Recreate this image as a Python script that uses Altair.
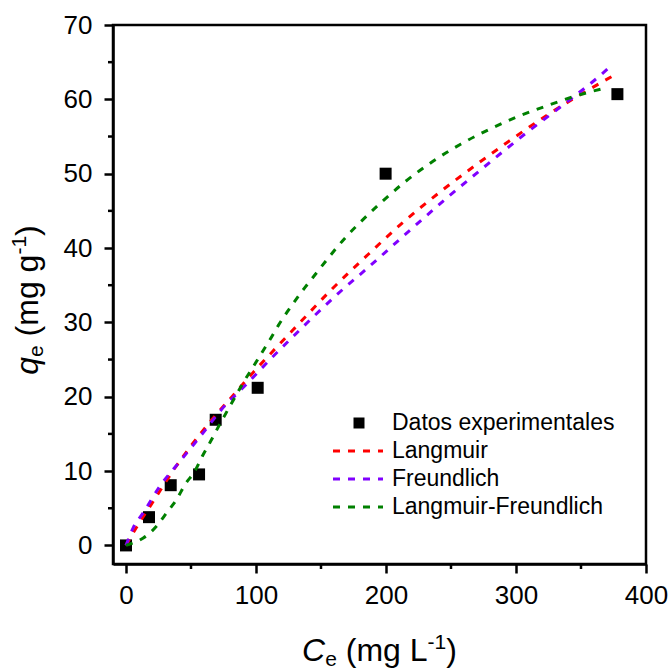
import altair as alt
import pandas as pd

# ---------------- data ----------------
exp_C = [0, 17.7, 34.4, 56.2, 69.0, 101.3, 199.7, 378.0]
exp_q = [0, 3.8, 8.1, 9.55, 16.9, 21.2, 50.0, 60.7]

lang_C = [0, 8, 22, 36, 50, 66, 83, 98, 115, 128, 158, 186, 214, 242, 267, 294, 325, 358, 378]
lang_q = [0, 2.4, 6.2, 10.0, 13.4, 16.9, 20.3, 23.3, 26.5, 28.9, 34.4, 39.1, 43.6, 47.6, 50.9, 54.3, 58.0, 61.5, 63.5]

freu_C = [0, 5.6, 13.3, 26.2, 41.5, 58.2, 73.6, 92.8, 110.8, 127.4, 163.3, 186.4, 215.9, 247.9, 276.2, 304.4, 335.1, 363.3, 373.6]
freu_q = [0, 2.4, 4.4, 8.0, 11.3, 14.9, 18.3, 21.7, 25.0, 27.9, 33.9, 37.4, 42.0, 46.9, 51.0, 55.0, 59.1, 63.0, 64.6]

lf_C = [0, 1.8, 13.3, 23.6, 31.3, 39.0, 45.4, 53.0, 58.7, 65.1, 71.5, 77.9, 83.8, 90.2, 97.4, 104.4, 110.8,
        117.2, 123.6, 137.7, 145.4, 154.4, 169.8, 178.7, 196.7, 214.6, 236.4, 257.7, 280.0, 301.8,
        324.9, 346.7, 370.5]
lf_q = [0, 0.1, 1.0, 2.6, 4.4, 6.2, 8.2, 10.0, 12.0, 14.0, 16.1, 18.1, 19.9, 21.9, 23.9, 25.9, 27.7,
        29.6, 31.3, 34.7, 36.4, 38.4, 41.6, 43.2, 46.2, 48.9, 51.7, 54.0, 56.0, 57.7,
        59.2, 60.5, 61.6]

series_names = ["Langmuir", "Freundlich", "Langmuir-Freundlich"]
series_colors = ["#ff0000", "#8000ff", "#008000"]
legend_first = "Datos experimentales"

x_ticks = [0, 100, 200, 300, 400]
x_minor = [50, 150, 250, 350]
y_ticks = [0, 10, 20, 30, 40, 50, 60, 70]
y_minor = [5, 15, 25, 35, 45, 55, 65]

# ---------------- layout ----------------
W, H = 533, 539
FONT = "Arial, 'Liberation Sans', sans-serif"
xs = alt.Scale(domain=[-10, 400], nice=False, zero=False)
ys = alt.Scale(domain=[-2.5, 70], nice=False, zero=False)

exp_df = pd.DataFrame({"C": exp_C, "q": exp_q})
rows = []
for name, Cs, qs in [(series_names[0], lang_C, lang_q), (series_names[1], freu_C, freu_q), (series_names[2], lf_C, lf_q)]:
    for i, (c, q) in enumerate(zip(Cs, qs)):
        rows.append({"series": name, "C": c, "q": q, "order": i})
fit_df = pd.DataFrame(rows)

DASH = [7, 8]

def axis(vals, pad):
    return alt.Axis(values=vals, title=None, grid=False, tickSize=9, tickWidth=2.5, domainWidth=2.5,
                    labelFontSize=26, labelPadding=pad, labelFont=FONT, labelColor="black",
                    labelFlush=False, labelOverlap=False,
                    domainColor="black", tickColor="black")

points = alt.Chart(exp_df).mark_square(size=144, color="black", opacity=1).encode(
    x=alt.X("C:Q", scale=xs, axis=axis(x_ticks, 9)),
    y=alt.Y("q:Q", scale=ys, axis=axis(y_ticks, 12)),
)

lines = alt.Chart(fit_df).mark_line(strokeDash=DASH, strokeWidth=3, interpolate="monotone").encode(
    x=alt.X("C:Q", scale=xs),
    y=alt.Y("q:Q", scale=ys),
    color=alt.Color("series:N", scale=alt.Scale(domain=series_names, range=series_colors), legend=None),
    order="order:Q",
)

xminor = alt.Chart(pd.DataFrame({"v": x_minor})).mark_rule(color="black", strokeWidth=2.5).encode(
    x=alt.X("v:Q", scale=xs), y=alt.value(H), y2=alt.value(H + 5))
yminor = alt.Chart(pd.DataFrame({"v": y_minor})).mark_rule(color="black", strokeWidth=2.5).encode(
    y=alt.Y("v:Q", scale=ys), x=alt.value(0), x2=alt.value(-5))

# ---------------- legend (manual) ----------------
LX_TEXT, LX0, LX1 = 279, 220, 270
L_BASE = [405, 433, 461, 489]
legend_layers = []
legend_layers.append(alt.Chart(pd.DataFrame({"a": [0]})).mark_square(size=121, color="black", opacity=1).encode(
    x=alt.value(246), y=alt.value(L_BASE[0] - 7)))
labels = [legend_first] + series_names
for i, lab in enumerate(labels):
    legend_layers.append(alt.Chart(pd.DataFrame({"t": [lab]})).mark_text(
        align="left", baseline="alphabetic", fontSize=23, font=FONT, color="black").encode(
        text="t:N", x=alt.value(LX_TEXT), y=alt.value(L_BASE[i])))
for i, col in enumerate(series_colors):
    yy = L_BASE[i + 1] - 7
    legend_layers.append(alt.Chart(pd.DataFrame({"a": [0]})).mark_rule(
        color=col, strokeWidth=3, strokeDash=DASH).encode(
        x=alt.value(LX0), x2=alt.value(LX1), y=alt.value(yy)))

# ---------------- axis titles (rich text in pieces) ----------------
ADV = {'C': 722, 'q': 556, 'e': 556, ' ': 278, '(': 333, ')': 333, 'm': 833, 'g': 556,
       'L': 556, '-': 333, '1': 556}

def width(s, size):
    return sum(ADV[ch] for ch in s) * size / 1000.0

BIG, SMALL = 32, 21
SPACE = 0.278 * BIG

def title_pieces(main_letter, unit_letter):
    # (text, size, style, baseline shift, gap before)
    return [(main_letter, BIG, "italic", 0, 0), ("e", SMALL, "normal", 5, 0),
            ("(mg " + unit_letter, BIG, "normal", 0, SPACE), ("-1", SMALL, "normal", -12, 0),
            (")", BIG, "normal", 0, 0)]

def total_width(pieces):
    return sum(width(t, s) + g for t, s, _, _, g in pieces)

title_layers = []
# x title
xp = title_pieces("C", "L")
cx = W / 2 - total_width(xp) / 2
for txt, sz, style, dy, gap in xp:
    cx += gap
    title_layers.append(alt.Chart(pd.DataFrame({"t": [txt]})).mark_text(
        align="left", baseline="alphabetic", fontSize=sz, fontStyle=style, font=FONT, color="black").encode(
        text="t:N", x=alt.value(cx), y=alt.value(636 + dy)))
    cx += width(txt, sz)
# y title (rotated)
yp = title_pieces("q", "g")
cy = 275 + total_width(yp) / 2
for txt, sz, style, dy, gap in yp:
    cy -= gap
    title_layers.append(alt.Chart(pd.DataFrame({"t": [txt]})).mark_text(
        align="left", baseline="alphabetic", angle=270, fontSize=sz, fontStyle=style, font=FONT,
        color="black").encode(
        text="t:N", x=alt.value(-75 + dy), y=alt.value(cy)))
    cy -= width(txt, sz)

chart = alt.layer(points, xminor, yminor, lines, *legend_layers, *title_layers).properties(
    width=W, height=H,
    autosize=alt.AutoSizeParams(type="none"),
    padding={"left": 113, "top": 25, "right": 24, "bottom": 105},
).configure_view(stroke="black", strokeWidth=2.5)

chart.save("out.html", embed_options={"renderer": "svg", "actions": False})
